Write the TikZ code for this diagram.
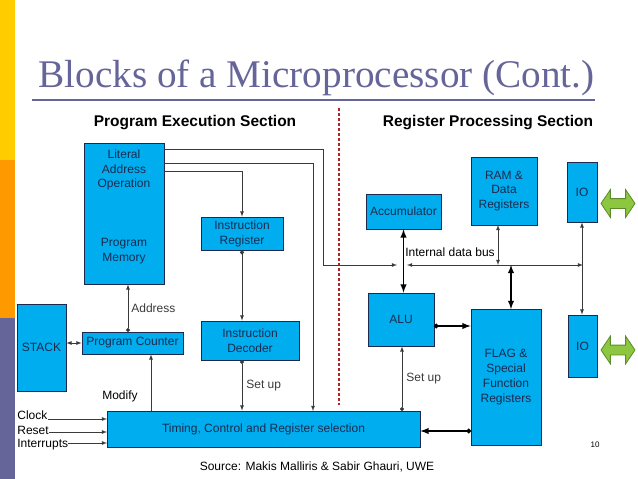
\documentclass[tikz,border=0pt]{standalone}
\usepackage{fontspec}
\setmainfont{Liberation Sans}
\newfontfamily\titlefont{Liberation Serif}
\usepackage{tikz}
\usetikzlibrary{arrows,arrows.meta,shapes.arrows}
\definecolor{blockfill}{HTML}{00AEEF}
\definecolor{blocktext}{HTML}{1B2A4E}
\definecolor{slate}{HTML}{65659A}
\definecolor{barY}{HTML}{FFCC00}
\definecolor{barO}{HTML}{FF9900}
\definecolor{wirecol}{HTML}{3A3A3A}
\definecolor{divider}{HTML}{B22222}
\definecolor{iofill}{HTML}{8DC63F}
\definecolor{ioedge}{HTML}{5B8C2A}
\newcommand\txt{\fontsize{12}{14.8}\selectfont}
\newcommand\hdr{\bfseries\fontsize{15.5}{18}\selectfont}

\begin{document}
\begin{tikzpicture}[x=1pt,y=-1pt,line width=.8pt]
\useasboundingbox (0,0) rectangle (638,479);
\tikzstyle{thinline}=[wirecol,line width=.8pt]
\tikzstyle{busline}=[black,line width=1.8pt]
\tikzstyle{plain}=[font=\txt,inner sep=0pt]
\tikzstyle{ioport}=[double arrow,draw=ioedge,fill=iofill,line width=.8pt,inner xsep=0pt,inner ysep=4.5pt,minimum height=34pt,double arrow head extend=9pt,double arrow tip angle=112]
%% side bars and title
\fill[barY] (0,0) rectangle (15,160);
\fill[barO] (0,160) rectangle (15,318);
\fill[slate] (0,318) rectangle (15,479);
\node[anchor=base west,inner sep=0pt,text=slate,font=\titlefont\fontsize{39.2}{41}\selectfont] (title) at (38,87) {Blocks of a Microprocessor (Cont.)};
\draw[slate,line width=1.6pt] (32,100) -- (595,100);
\node[font=\hdr] (pes) at (195,123) {Program Execution Section};
\node[font=\hdr] (rps) at (488,123) {Register Processing Section};
\draw[divider,line width=1.1pt,dash pattern=on 3pt off 2pt] (339,108) -- (339,405);
\begin{scope}
\tikzstyle{every node}=[draw=blocktext,fill=blockfill,text=blocktext,font=\txt,align=center,inner sep=0pt] %%
\node[minimum width=80pt,minimum height=141pt] (pm) at (124,213.5) {}; %%
\node[minimum width=82pt,minimum height=33pt] (ir) at (242,233.5) {Instruction\\Register}; %%
\node[minimum width=98pt,minimum height=39pt] (id) at (250,340.5) {Instruction\\Decoder}; %%
\node[minimum width=49pt,minimum height=87pt] (stack) at (41.5,347.5) {STACK}; %%
\node[minimum width=101pt,minimum height=22pt] (pc) at (132.5,343) {Program Counter}; %%
\node[minimum width=313pt,minimum height=36pt] (tcr) at (263.5,429) {Timing, Control and Register selection}; %%
\node[minimum width=75pt,minimum height=35pt] (acc) at (403.5,211.5) {Accumulator}; %%
\node[minimum width=66pt,minimum height=68pt] (ram) at (504,191) {RAM \&\\Data\\Registers}; %%
\node[minimum width=30pt,minimum height=60pt] (iotop) at (582,192) {IO}; %%
\node[minimum width=66pt,minimum height=53pt] (alu) at (401,319.5) {ALU}; %%
\node[minimum width=70pt,minimum height=136pt] (flag) at (506,377) {FLAG \&\\Special\\Function\\Registers}; %%
\node[minimum width=29pt,minimum height=62pt] (iobot) at (582.5,346) {IO}; %%
\end{scope}
\node[plain,text=blocktext,align=center] (pmlit) at (124,170) {Literal\\Address\\Operation}; %%
\node[plain,text=blocktext,align=center] (pmmem) at (124,251.5) {Program\\Memory}; %%
\node[ioport] (porttop) at (618,203.5) {}; %%
\node[ioport] (portbot) at (618,350) {}; %%
%% points where wires leave or meet the blocks
\coordinate (pmA) at (164,149);
\coordinate (pmB) at (164,163);
\coordinate (pmC) at (164,171);
\coordinate (bend) at (323,265);
\coordinate (busL) at (397,265);
\coordinate (busA) at (407,265);
\coordinate (busB) at (583,265);
\coordinate (tcrB) at (313,411);
\coordinate (idout) at (242,360);
\coordinate (pcout) at (128,332);
\coordinate (tcrpc) at (151,411);
\coordinate (ramout) at (498,225);
\coordinate (flagin) at (511,309);
\coordinate (aluout) at (434,326);
\coordinate (flagout) at (471,431);
\coordinate (tcralu) at (402,411);
\coordinate (clkin) at (107,419);
\coordinate (rstin) at (107,432);
\coordinate (intin) at (107,443);
%% program execution wires
\draw[->,-latex,thinline] (pmC) -| (ir.north); %%
\draw[->,-latex,thinline] (pmB) -| (tcrB); %%
\draw[->,-latex,thinline] (pmA) -| (bend) -- (busL); %%
\draw[{Circle[length=4pt]}-latex,thinline] (ir.south) -- (ir.south |- id.north); %%
\draw[{Circle[length=4pt]}-latex,thinline] (idout) -- (idout |- tcr.north) node[midway,right=4pt,plain]{Set up}; %%
\draw[{Circle[length=4pt]}-latex,thinline] (pcout) -- (pcout |- pm.south) node[midway,right=3pt,plain]{Address}; %%
\draw[->,-latex,thinline] (tcrpc) -- (tcrpc |- pc.south); %%
\node[plain] (modify) at (120,396) {Modify}; %%
\draw[latex-latex,thinline] (pc.west -| stack.east) -- (pc.west); %%
%% inputs
\node[plain,anchor=west] (clk) at (17,415) {Clock}; %%
\node[plain,anchor=west] (rst) at (17,430) {Reset}; %%
\node[plain,anchor=west] (intr) at (17,445) {Interrupts}; %%
\draw[->,-latex,thinline] (clk.east |- clkin) -- (clkin); %%
\draw[->,-latex,thinline] (rst.east |- rstin) -- (rstin); %%
\draw[->,-latex,thinline] (intr.east |- intin) -- (intin); %%
%% register processing wires
\draw[latex-latex,thinline] (busA) -- (busB); %%
\node[plain] (busname) at (450,252) {Internal data bus}; %%
\draw[latex-latex,busline] (acc.south) -- (acc.south |- alu.north); %%
\draw[latex-latex,thinline] (ramout) -- (ramout |- busB); %%
\draw[latex-latex,busline] (flagin |- busB) -- (flagin); %%
\draw[latex-latex,thinline] (iotop.south) -- (iotop.south |- iobot.north); %%
\draw[{Circle[length=4.5pt]}-latex,busline] (aluout) -- (aluout -| flag.west); %%
\draw[{Circle[length=4.5pt]}-latex,busline] (flagout) -- (flagout -| tcr.east); %%
\draw[{Circle[length=4pt]}-latex,thinline] (tcralu) -- (tcralu |- alu.south) node[midway,right=4pt,plain]{Set up}; %%
\node[font=\fontsize{8}{9}\selectfont] (pageno) at (595,445) {10}; %%
\node[plain] (source) at (317,467) {Source: Makis Malliris \& Sabir Ghauri, UWE}; %%
\end{tikzpicture}
\end{document}
